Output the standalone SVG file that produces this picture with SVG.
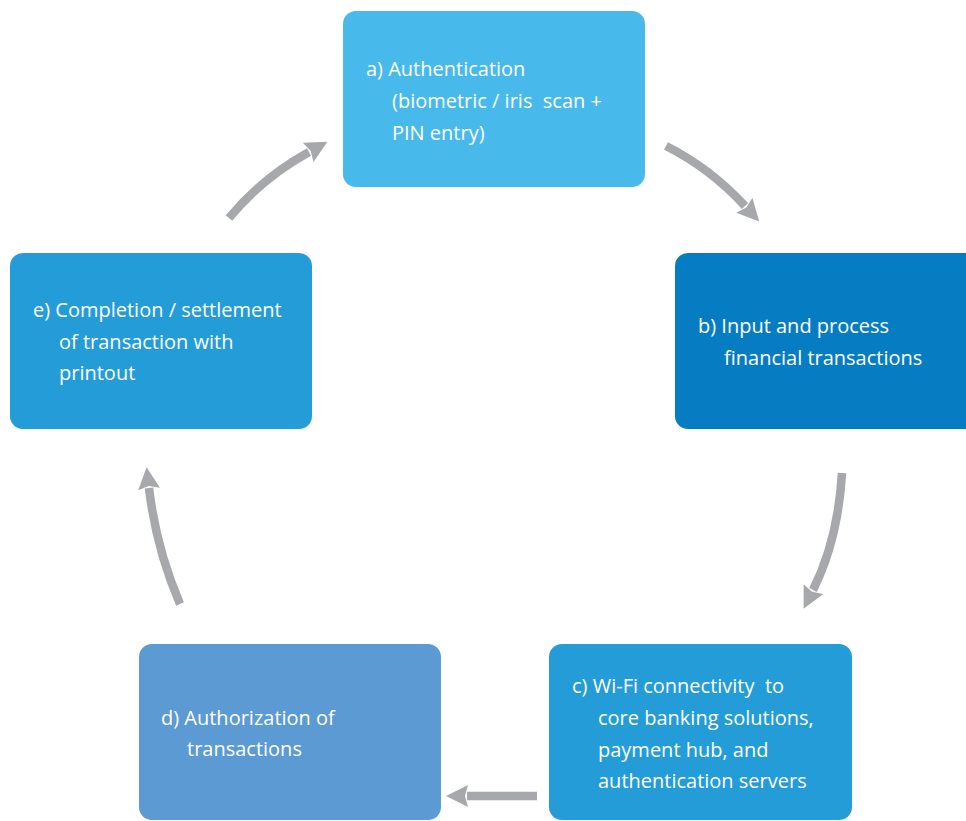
<svg xmlns="http://www.w3.org/2000/svg" width="966" height="821" viewBox="0 0 966 821">
  <defs>
    <style>
      .box { stroke: none; }
      .lbl { font-family: "Open Sans", "Noto Sans", sans-serif; font-size: 20px; fill: #ffffff; white-space: pre; }
      .flow { fill: none; stroke: #a7a8ab; stroke-width: 8.5; stroke-linecap: butt; }
    </style>
    <marker id="head" viewBox="0 0 22 22" markerWidth="22" markerHeight="22" refX="1" refY="11" orient="auto" markerUnits="userSpaceOnUse">
      <path d="M0,0 L22,11 L0,22 L3,11 z" fill="#a7a8ab"/>
    </marker>
  </defs>
  <rect width="966" height="821" fill="#ffffff"/>

  <!-- connectors -->
  <g id="connectors">
    <path class="flow" d="M666,146 Q710,168 745,206" marker-end="url(#head)"/>
    <path class="flow" d="M842,473 Q838,540 813,590" marker-end="url(#head)"/>
    <path class="flow" d="M537,796 L467,796" marker-end="url(#head)"/>
    <path class="flow" d="M180,604 Q156,548 149,488" marker-end="url(#head)"/>
    <path class="flow" d="M229,218 Q262,178 309,152" marker-end="url(#head)"/>
  </g>

  <g id="node-a">
    <rect class="box" x="343" y="11" width="302" height="176" rx="13" fill="#47b9ea"/>
    <text class="lbl" x="366" y="76" xml:space="preserve">a) Authentication</text>
    <text class="lbl" x="392" y="108" xml:space="preserve">(biometric / iris  scan +</text>
    <text class="lbl" x="392" y="140" xml:space="preserve">PIN entry)</text>
  </g>

  <g id="node-b">
    <rect class="box" x="675" y="253" width="310" height="176" rx="13" fill="#067dc2"/>
    <text class="lbl" x="698" y="333">b) Input and process</text>
    <text class="lbl" x="724" y="365">financial transactions</text>
  </g>

  <g id="node-c">
    <rect class="box" x="549" y="644" width="303" height="176" rx="13" fill="#239cd7"/>
    <text class="lbl" x="572" y="693" xml:space="preserve">c) Wi-Fi connectivity  to</text>
    <text class="lbl" x="598" y="725">core banking solutions,</text>
    <text class="lbl" x="598" y="757">payment hub, and</text>
    <text class="lbl" x="598" y="788">authentication servers</text>
  </g>

  <g id="node-d">
    <rect class="box" x="139" y="644" width="302" height="176" rx="13" fill="#5b9ad3"/>
    <text class="lbl" x="161" y="725">d) Authorization of</text>
    <text class="lbl" x="187" y="756">transactions</text>
  </g>

  <g id="node-e">
    <rect class="box" x="10" y="253" width="302" height="176" rx="13" fill="#239cd7"/>
    <text class="lbl" x="33" y="317">e) Completion / settlement</text>
    <text class="lbl" x="59" y="349">of transaction with</text>
    <text class="lbl" x="59" y="380">printout</text>
  </g>
</svg>
